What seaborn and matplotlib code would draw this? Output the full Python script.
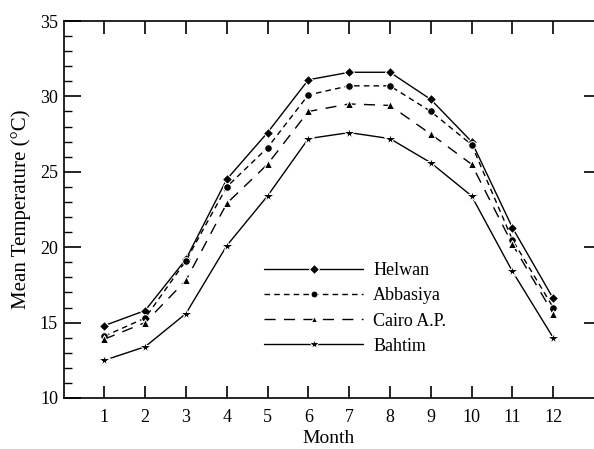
import numpy as np
import pandas as pd
import matplotlib
matplotlib.use("Agg")
import matplotlib.pyplot as plt
import seaborn as sns
from matplotlib.ticker import MultipleLocator

# monthly mean temperature per station
months = list(range(1, 13))
helwan = [14.8, 15.8, 19.2, 24.5, 27.6, 31.1, 31.6, 31.6, 29.8, 27.0, 21.3, 16.6]
abbasiya = [14.1, 15.3, 19.1, 24.0, 26.6, 30.1, 30.7, 30.7, 29.0, 26.8, 20.5, 16.0]
cairo_ap = [13.9, 15.0, 17.8, 22.9, 25.5, 29.0, 29.5, 29.4, 27.5, 25.5, 20.2, 15.6]
bahtim = [12.5, 13.4, 15.6, 20.1, 23.4, 27.2, 27.6, 27.2, 25.6, 23.4, 18.4, 14.0]

stations = ['Helwan', 'Abbasiya', 'Cairo A.P.', 'Bahtim']

df = pd.DataFrame({
    'Month': months * 4,
    'Temp': helwan + abbasiya + cairo_ap + bahtim,
    'Station': np.repeat(stations, 12),
})

sns.set_style('ticks', {'axes.edgecolor': 'black', 'text.color': 'black',
                        'xtick.color': 'black', 'ytick.color': 'black',
                        'axes.labelcolor': 'black',
                        'xtick.direction': 'in', 'ytick.direction': 'in',
                        'xtick.top': True})
plt.rcParams['font.family'] = ['Liberation Serif', 'DejaVu Serif']

fig = plt.figure(figsize=(5.94, 4.49), dpi=100)
ax = fig.add_axes([63.5 / 594, 51 / 449, 530.5 / 594, 377 / 449])

markers = {'Helwan': 'D', 'Abbasiya': 'o', 'Cairo A.P.': '^', 'Bahtim': '*'}
dashes = {'Helwan': '', 'Abbasiya': (4, 3), 'Cairo A.P.': (8, 6), 'Bahtim': ''}
sizes = {'Helwan': 5.5, 'Abbasiya': 5.5, 'Cairo A.P.': 6, 'Bahtim': 8.5}
leg_sizes = {'Helwan': 5, 'Abbasiya': 5, 'Cairo A.P.': 5, 'Bahtim': 7}

sns.lineplot(data=df, x='Month', y='Temp', style='Station', style_order=stations,
             markers=markers, dashes=dashes, color='black', linewidth=1.0,
             markersize=6, ax=ax)

for line, st in zip(ax.get_lines(), stations):
    line.set_markersize(sizes[st])

ax.set_xlim(0, 13)
ax.set_ylim(10, 35)
ax.set_xticks(months)
ax.yaxis.set_major_locator(MultipleLocator(5))
ax.yaxis.set_minor_locator(MultipleLocator(1))
ax.xaxis.set_tick_params(which='major', direction='in', length=9, width=1.2,
                         bottom=True, top=True, labelsize=13, pad=8)
ax.tick_params(axis='y', which='major', direction='in', length=12, width=1.2,
               labelsize=13, pad=4)
ax.tick_params(axis='y', which='minor', direction='in', length=6, width=1,
               left=True, right=False)
for side in ['left', 'bottom', 'top']:
    ax.spines[side].set_linewidth(1.2)
ax.spines['right'].set_visible(False)

sec = ax.secondary_yaxis('right')
sec.set_yticks([15, 20, 25, 30])
sec.tick_params(direction='in', length=7, width=1.2, labelright=False)
sec.spines['right'].set_visible(False)

ax.set_xlabel('Month', fontsize=14, labelpad=3)
ax.set_ylabel('Mean Temperature (°C)', fontsize=15, labelpad=6)

handles, labels = ax.get_legend_handles_labels()
for h, st in zip(handles, labels):
    h.set_markersize(leg_sizes.get(st, 5))
ax.legend(handles, labels, loc='upper left', bbox_to_anchor=(0.378, 0.36),
          frameon=False, fontsize=13, handlelength=5.5, handletextpad=0.55,
          borderpad=0, borderaxespad=0, labelspacing=0.45, numpoints=1)

fig.savefig('out.png', dpi=100)
